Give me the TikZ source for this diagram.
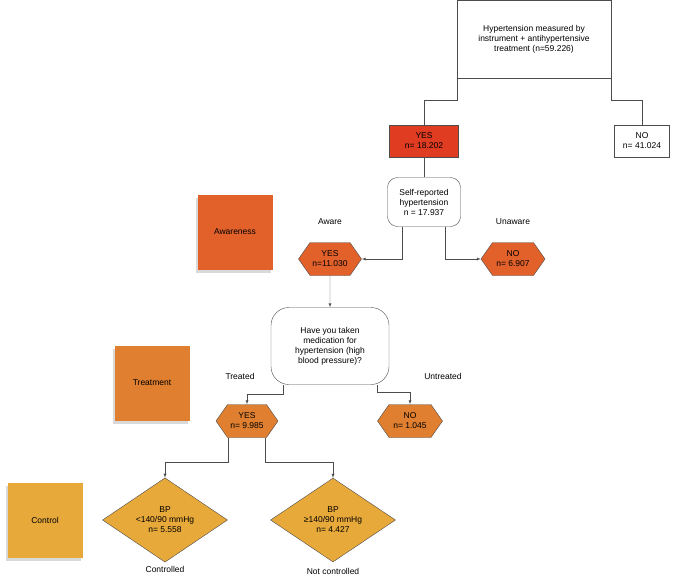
\documentclass[tikz,border=0pt]{standalone}
\usepackage{fontspec}
\setmainfont{Liberation Sans}
\usetikzlibrary{shapes.geometric,shapes.symbols,shadows}
\definecolor{redbox}{HTML}{E03C22}
\definecolor{aware}{HTML}{E2612B}
\definecolor{treat}{HTML}{E07F30}
\definecolor{ctrl}{HTML}{E8A93B}
\begin{document}
\begin{tikzpicture}[x=1pt,y=-1pt,font=\fontsize{8.5}{10}\selectfont,
    every node/.style={align=center},
    box/.style={draw=black!70,rectangle,inner sep=2pt},
    round/.style={draw=black!70,rounded corners=10pt},
    hex/.style={draw=black!70,signal,signal to=east and west,signal pointer angle=110,minimum height=33pt,inner sep=1pt},
    dia/.style={draw=black!70,diamond,fill=ctrl,minimum width=125pt,minimum height=80pt,inner sep=0pt},
    sticky/.style={minimum size=75pt,drop shadow={opacity=0.3,shadow xshift=-2pt,shadow yshift=-3pt}},
    link/.style={draw=black!70},
    arr/.style={link,-latex}]
            \useasboundingbox (0,0) rectangle (685,576);
            \node[box,minimum width=154pt,minimum height=78pt] (top) at (534,39) {Hypertension measured by\\instrument + antihypertensive\\treatment (n=59.226)};
            \node[box,fill=redbox,minimum width=69pt,minimum height=32pt] (yes1) at (424,141) {YES\\n= 18.202};
            \node[box,minimum width=55pt,minimum height=32pt] (no1) at (642,141) {NO\\n= 41.024};
            \node[round,minimum width=73pt,minimum height=49pt,inner sep=1pt] (self) at (424,202) {Self-reported\\hypertension\\n = 17.937};
            \node[sticky,fill=aware] (awareness) at (235,232) {Awareness};
            \node (lblaware) at (330,222) {Aware};
            \node (lblunaware) at (513,222) {Unaware};
            \node[hex,fill=aware,minimum width=63pt] (yes2) at (330,259) {YES\\n=11.030};
            \node[hex,fill=aware,minimum width=64pt] (no2) at (513,259) {NO\\n= 6.907};
            \node[round,rounded corners=18pt,minimum width=118pt,minimum height=77pt,inner sep=1pt] (med) at (330,346) {Have you taken\\medication for\\hypertension (high\\blood pressure)?};
            \node[sticky,fill=treat] (treatment) at (152,383) {Treatment};
            \node (lbltreated) at (240,376) {Treated};
            \node (lbluntreated) at (443,376) {Untreated};
            \node[hex,fill=treat,minimum width=62pt] (yes3) at (247,421) {YES\\n= 9.985};
            \node[hex,fill=treat,minimum width=65pt] (no3) at (410,421) {NO\\n= 1.045};
            \node[sticky,fill=ctrl] (control) at (45,520) {Control};
            \node[dia] (bplow) at (165,520) {BP\\<140/90 mmHg\\n= 5.558};
            \node[dia] (bphigh) at (333,520) {BP\\≥140/90 mmHg\\n= 4.427};
            \node (lblctrl) at (165,569) {Controlled};
            \node (lblnotctrl) at (333,571) {Not controlled};
            \draw[link] (top.south west) -- ++(0,22) -| (yes1.north);
            \draw[link] (top.south east) -- ++(0,22) -| (no1.north);
            \draw[link] (yes1) -- (self);
            \draw[arr] ([xshift=-22pt]self.south) |- (yes2.east);
            \draw[arr] ([xshift=21pt]self.south) |- (no2.west);
            \draw[arr] (yes2) -- (med);
            \draw[arr] ([xshift=-47pt]med.south) -- ++(0,9) -| (yes3.north);
            \draw[arr] ([xshift=47pt]med.south) -- ++(0,7) -| (no3.north);
            \draw[arr] ([xshift=-19pt]yes3.south) -- ++(0,24) -| (bplow.north);
            \draw[arr] ([xshift=18pt]yes3.south) -- ++(0,24) -| (bphigh.north);
        \end{tikzpicture}
\end{document}
